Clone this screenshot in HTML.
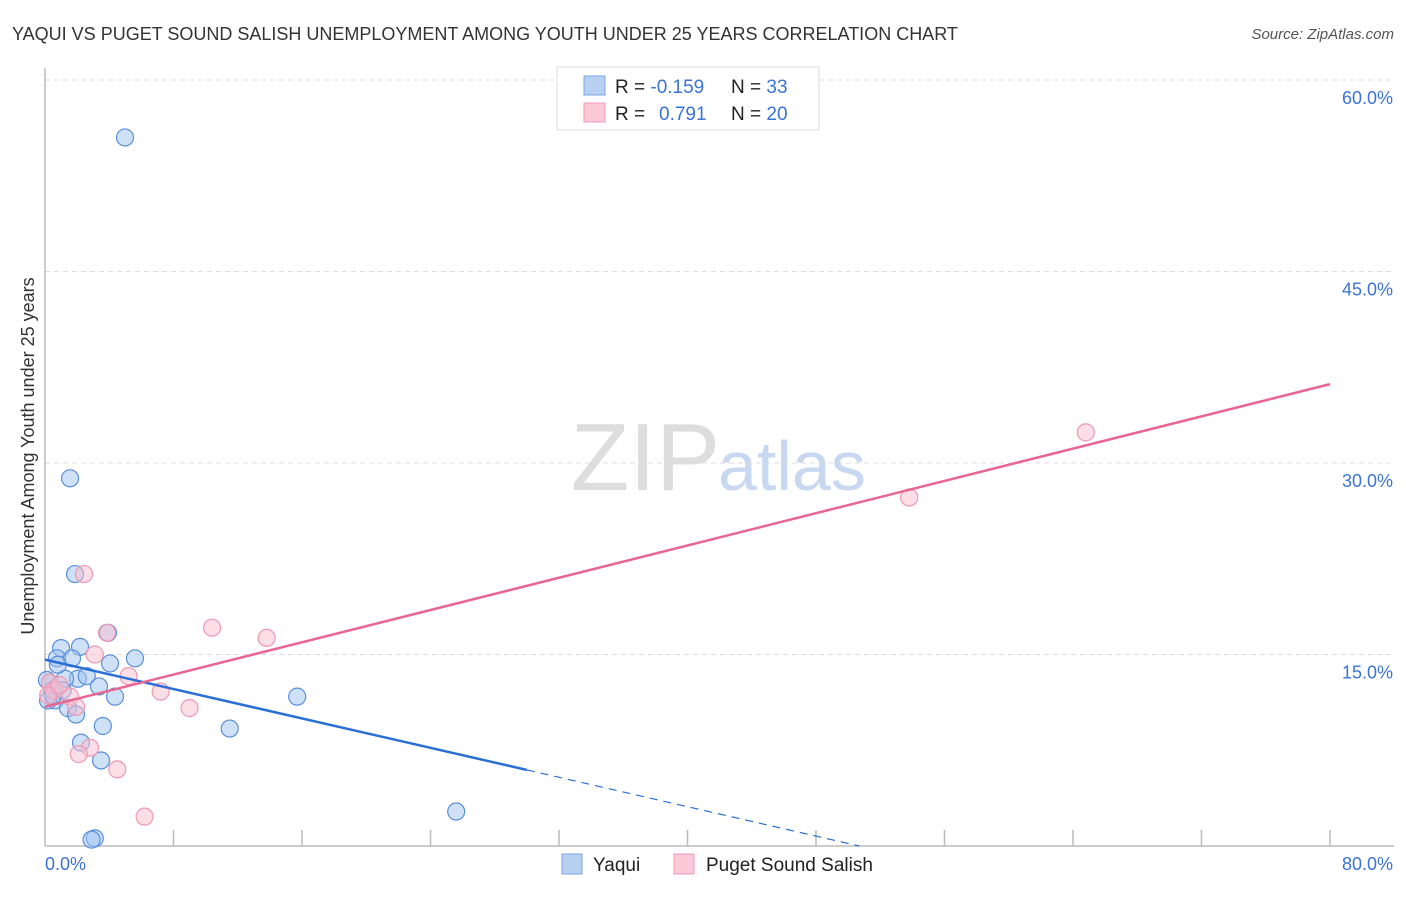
<!DOCTYPE html>
<html><head><meta charset="utf-8"><style>
body{margin:0;background:#fff;font-family:"Liberation Sans",sans-serif;}
svg text{font-family:"Liberation Sans",sans-serif;}
</style></head><body>
<svg id="chart" width="1406" height="892" xmlns="http://www.w3.org/2000/svg">
<text x="12" y="40" font-size="18" fill="#333">YAQUI VS PUGET SOUND SALISH UNEMPLOYMENT AMONG YOUTH UNDER 25 YEARS CORRELATION CHART</text>
<text x="1394" y="39" font-size="15" fill="#555" text-anchor="end" font-style="italic">Source: ZipAtlas.com</text>
<text x="720" y="490" font-size="96" fill="#ddd" text-anchor="end" font-family="Liberation Serif">ZIP</text>
<text x="718" y="490" font-size="70" fill="#c8d8f0">atlas</text>
<text transform="translate(34,456) rotate(-90)" font-size="18" fill="#333" text-anchor="middle">Unemployment Among Youth under 25 years</text>
<g id="grid"></g><g id="pts"></g><g id="lines"></g>
<g>
<rect x="557" y="67" width="262" height="63" fill="#fff" stroke="#ddd"/>
<rect x="584" y="76" width="21" height="19" fill="#b8d1f3" stroke="#7aa5e6"/>
<rect x="584" y="103" width="21" height="19" fill="#fcc9d8" stroke="#f09ab5"/>
<text x="615" y="93" font-size="19" fill="#222">R = <tspan fill="#3b73d6">-0.159</tspan><tspan x="731">N = </tspan><tspan fill="#3b73d6">33</tspan></text>
<text x="615" y="120" font-size="19" fill="#222">R = <tspan x="659" fill="#3b73d6">0.791</tspan><tspan x="731">N = </tspan><tspan fill="#3b73d6">20</tspan></text>
</g>
<g>
<rect x="562" y="854" width="20" height="20" fill="#b8d1f3" stroke="#7aa5e6"/>
<text x="593" y="871" font-size="19" fill="#222">Yaqui</text>
<rect x="674" y="854" width="20" height="20" fill="#fcc9d8" stroke="#f09ab5"/>
<text x="706" y="871" font-size="19" fill="#222">Puget Sound Salish</text>
</g>
</svg>
<script>
const yaquiX=[4.98,1.56,1.87,3.92,1.0,2.18,0.75,1.68,4.05,5.6,2.05,2.6,1.25,0.31,3.36,4.36,15.7,0.62,1.43,1.93,3.6,11.5,2.24,3.49,25.6,3.1,2.9,0.44,0.19,0.5,0.12,1.1,0.8];
const yaquiY=[55.5,28.8,21.3,16.7,15.5,15.6,14.7,14.7,14.3,14.7,13.1,13.3,13.1,12.8,12.5,11.7,11.7,11.4,10.8,10.3,9.4,9.2,8.1,6.7,2.7,0.6,0.5,12.2,11.4,11.8,13.0,12.2,14.2];
const salishX=[2.43,3.86,10.4,13.8,3.1,5.2,7.2,9.0,1.56,1.93,2.8,2.1,4.5,6.2,53.8,64.8,0.3,0.6,0.2,0.9];
const salishY=[21.3,16.7,17.1,16.3,15.0,13.3,12.1,10.8,11.7,10.9,7.7,7.2,6.0,2.3,27.3,32.4,12.8,12.2,11.8,12.6];
const yTicks=[15,30,45,60];
const yTickLabels=["15.0%","30.0%","45.0%","60.0%"];
const xTicks=[0,8,16,24,32,40,48,56,64,72,80];
const xTickLabels=["0.0%","80.0%"];
const yaquiTrend=[14.6,-0.288];
const salishTrend=[10.9,0.316];
const NS="http://www.w3.org/2000/svg";
const X=v=>45+v/80*1285, Y=v=>846-v/15*191.5;
function mk(t,a,p){const e=document.createElementNS(NS,t);for(const k in a)e.setAttribute(k,a[k]);p.appendChild(e);return e;}
const g=document.getElementById('grid');
yTicks.forEach((t,i)=>{
 const l=mk('line',{x1:45,x2:1394,y1:Y(t),y2:Y(t),stroke:'#ddd','stroke-dasharray':'5,4'},g);
 
 
 const tx=mk('text',{x:1393,y:Y(t)+24,'font-size':18,fill:'#3b73d6','text-anchor':'end'},g);tx.textContent=yTickLabels[i];
 
 
});
const ax=mk('line',{x1:45,x2:45,y1:68,y2:846,stroke:'#bbb','stroke-width':1.5},g);


const bx=mk('line',{x1:45,x2:1394,y1:846,y2:846,stroke:'#bbb','stroke-width':1.5},g);


xTicks.slice(1).forEach(t=>{const l=mk('line',{x1:X(t),x2:X(t),y1:830,y2:846,stroke:'#bbb','stroke-width':1.5},g);
 
 });
const t0=mk('text',{x:45,y:870,'font-size':18,fill:'#3b73d6'},g);t0.textContent=xTickLabels[0];


const t1=mk('text',{x:1393,y:870,'font-size':18,fill:'#3b73d6','text-anchor':'end'},g);t1.textContent=xTickLabels[1];


const p=document.getElementById('pts');
yaquiX.forEach((x,i)=>{const c=mk('circle',{cx:X(x),cy:Y(yaquiY[i]),r:8.5,fill:'rgba(160,195,240,0.5)',stroke:'#5a8fdc','stroke-width':1.2},p);
 
 });
salishX.forEach((x,i)=>{const c=mk('circle',{cx:X(x),cy:Y(salishY[i]),r:8.5,fill:'rgba(250,190,208,0.5)',stroke:'#ef98b3','stroke-width':1.2},p);
 
 });
const L=document.getElementById('lines');
const ys=x=>yaquiTrend[0]+yaquiTrend[1]*x, ss=x=>salishTrend[0]+salishTrend[1]*x;
const b1=mk('line',{x1:X(0),y1:Y(ys(0)),x2:X(30),y2:Y(ys(30)),stroke:'#2a6fd6','stroke-width':2.5},L);


const x0=-yaquiTrend[0]/yaquiTrend[1];
const b2=mk('line',{x1:X(30),y1:Y(ys(30)),x2:X(x0),y2:Y(0),stroke:'#2a6fd6','stroke-width':1.2,'stroke-dasharray':'8,6'},L);


const s1=mk('line',{x1:X(0),y1:Y(ss(0)),x2:X(80),y2:Y(ss(80)),stroke:'#e8668f','stroke-width':2.5},L);


</script>
</body></html>
